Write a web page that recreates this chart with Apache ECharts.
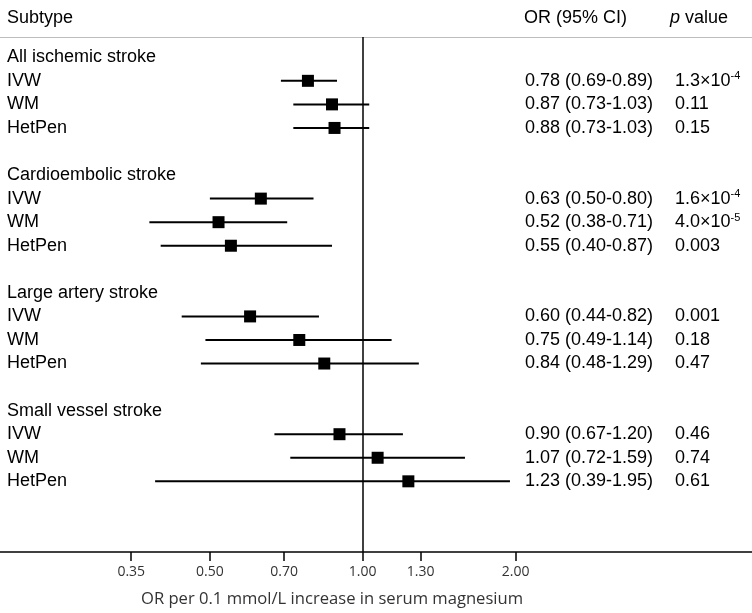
<!DOCTYPE html>
<html>
<head>
<meta charset="utf-8">
<script src="https://cdn.jsdelivr.net/npm/echarts@6/dist/echarts.min.js"></script>
<style>
html,body{margin:0;padding:0;background:#fff;}
#chart{width:752px;height:613px;}
</style>
</head>
<body>
<div id="chart"></div>
<script>
// ---- data ----
const groups = ['All ischemic stroke', 'Cardioembolic stroke', 'Large artery stroke', 'Small vessel stroke'];
const methods = ['IVW', 'WM', 'HetPen'];
const orValues = [[0.78, 0.87, 0.88], [0.63, 0.52, 0.55], [0.60, 0.75, 0.84], [0.90, 1.07, 1.23]];
const ciLower  = [[0.69, 0.73, 0.73], [0.50, 0.38, 0.40], [0.44, 0.49, 0.48], [0.67, 0.72, 0.39]];
const ciUpper  = [[0.89, 1.03, 1.03], [0.80, 0.71, 0.87], [0.82, 1.14, 1.29], [1.20, 1.59, 1.95]];
const pValues  = [['1.3×10^-4', '0.11', '0.15'], ['1.6×10^-4', '4.0×10^-5', '0.003'], ['0.001', '0.18', '0.47'], ['0.46', '0.74', '0.61']];
const xTicks = [0.35, 0.50, 0.70, 1.00, 1.30, 2.00];
const xAxisTitle = 'OR per 0.1 mmol/L increase in serum magnesium';
const headers = { subtype: 'Subtype', or: 'OR (95% CI)', p: '{i|p} value' };

// ---- build rows ----
const rows = [];
groups.forEach((g, gi) => {
  rows.push({ row: gi * 5, label: g });
  methods.forEach((m, mi) => {
    rows.push({
      row: gi * 5 + 1 + mi, label: m,
      or: orValues[gi][mi], lo: ciLower[gi][mi], hi: ciUpper[gi][mi],
      p: pValues[gi][mi]
    });
  });
});
const estRows = rows.filter(r => r.or !== undefined);

const FONT = '"Liberation Sans", Arial, Helvetica, sans-serif';
const TXT = 18;
const COL_LABEL = 7, COL_OR = 525, COL_P = 675;
const supRich = { sup: { fontSize: 11, fontFamily: FONT, fill: '#000', verticalAlign: 'top', lineHeight: 20 }, n: { fontSize: TXT, fontFamily: FONT, lineHeight: 20 } };

function fmtP(s) {
  const m = s.match(/^(.*)\^(-?\d+)$/);
  return m ? '{n|' + m[1] + '}{sup|' + m[2] + '}' : s;
}

const chart = echarts.init(document.getElementById('chart'), null, { renderer: 'canvas' });

chart.setOption({
  animation: false,
  backgroundColor: '#fff',
  grid: { left: 0, right: 0, top: 37, bottom: 58, containLabel: false },
  xAxis: [{
    type: 'log',
    min: 0.193, max: 5.845,
    position: 'bottom',
    axisLine: { show: true, onZero: false, lineStyle: { color: '#000', width: 1.5 } },
    axisTick: { show: true, customValues: xTicks, length: 9, lineStyle: { color: '#000', width: 1.5 } },
    axisLabel: {
      show: true, customValues: xTicks, margin: 13,
      formatter: v => Number(v).toFixed(2),
      color: '#333', fontFamily: '"Open Sans", sans-serif', fontSize: 14
    },
    splitLine: { show: false },
    minorTick: { show: false },
    name: xAxisTitle, nameLocation: 'middle', nameGap: 39,
    nameTextStyle: { color: '#333', fontFamily: '"Open Sans", sans-serif', fontSize: 16.6, padding: [0, 88, 0, 0] }
  }, {
    type: 'value', position: 'top', min: 0, max: 1,
    axisLine: { show: true, onZero: false, lineStyle: { color: '#bdbdbd', width: 1.2 } },
    axisTick: { show: false }, axisLabel: { show: false }, splitLine: { show: false }
  }],
  yAxis: { type: 'value', inverse: true, min: -0.86, max: 21, show: false },
  graphic: [
    { type: 'text', x: COL_LABEL, y: 18, style: { text: headers.subtype, fontSize: TXT, fontFamily: FONT, fill: '#000', verticalAlign: 'middle' } },
    { type: 'text', x: 524, y: 18, style: { text: headers.or, fontSize: TXT, fontFamily: FONT, fill: '#000', verticalAlign: 'middle' } },
    { type: 'text', x: 670, y: 18, style: { text: headers.p, fontSize: TXT, fontFamily: FONT, fill: '#000', verticalAlign: 'middle',
      rich: { i: { fontStyle: 'italic', fontSize: TXT, fontFamily: FONT, fill: '#000' } } } }
  ],
  series: [
    {
      type: 'custom', name: 'CI',
      data: estRows.map(r => [r.row, r.lo, r.hi]),
      encode: { x: [1, 2], y: 0 },
      renderItem: (params, api) => {
        const p1 = api.coord([api.value(1), api.value(0)]);
        const p2 = api.coord([api.value(2), api.value(0)]);
        return { type: 'line', shape: { x1: p1[0], y1: p1[1], x2: p2[0], y2: p2[1] }, style: { stroke: '#000', lineWidth: 2 } };
      },
      z: 2
    },
    {
      type: 'scatter', name: 'OR',
      data: estRows.map(r => [r.or, r.row]),
      symbol: 'rect', symbolSize: 12,
      itemStyle: { color: '#000', opacity: 1 },
      z: 3,
      markLine: {
        silent: true, symbol: 'none', label: { show: false },
        lineStyle: { color: '#000', width: 1.5, type: 'solid', opacity: 1 },
        data: [{ xAxis: 1 }]
      }
    },
    {
      type: 'custom', name: 'text',
      data: rows.map(r => [1, r.row]),
      encode: { x: 0, y: 1 },
      renderItem: (params, api) => {
        const r = rows[params.dataIndex];
        const y = api.coord([1, api.value(1)])[1];
        const children = [{
          type: 'text', x: COL_LABEL, y: y,
          style: { text: r.label, fontSize: TXT, fontFamily: FONT, fill: '#000', verticalAlign: 'middle', align: 'left' }
        }];
        if (r.or !== undefined) {
          children.push({
            type: 'text', x: COL_OR, y: y,
            style: { text: r.or.toFixed(2) + ' (' + r.lo.toFixed(2) + '-' + r.hi.toFixed(2) + ')', fontSize: TXT, fontFamily: FONT, fill: '#000', verticalAlign: 'middle', align: 'left' }
          });
          children.push({
            type: 'text', x: COL_P, y: y,
            style: { text: fmtP(r.p), fontSize: TXT, fontFamily: FONT, fill: '#000', verticalAlign: 'middle', align: 'left', rich: supRich }
          });
        }
        return { type: 'group', children: children };
      },
      z: 4
    }
  ]
});
</script>
</body>
</html>
